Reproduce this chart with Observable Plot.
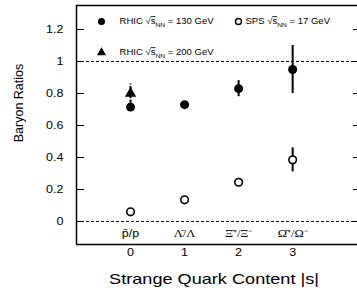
<!DOCTYPE html>
<html><head><meta charset="utf-8">
<script src="https://cdn.jsdelivr.net/npm/d3@7"></script>
<script src="https://cdn.jsdelivr.net/npm/@observablehq/plot@0.6"></script>
<style>body{margin:0;background:#fff} #chart svg{font-family: Arial, "Liberation Sans", sans-serif; background:#fff}</style>
</head><body><div id="chart"></div>
<script>
// ---- data ----
const strangeness = [0, 1, 2, 3];
const ratioLabels = ["p\u0304/p", "\u039B\u0304/\u039B", "\u039E\u0304\u207A/\u039E\u207B", "\u03A9\u0304\u207A/\u03A9\u207B"];
const rhic130 = [0.715, 0.73, 0.83, 0.95];
const rhic130Err = [0.02, 0.02, 0.05, 0.15];
const sps17 = [0.06, 0.135, 0.245, 0.385];
const sps17Err = [0.005, 0.01, 0.01, 0.075];
const rhic200X = [0];
const rhic200 = [0.80];
const rhic200Err = [0.06];
const yTicks = [0, 0.2, 0.4, 0.6, 0.8, 1, 1.2];
const xTicks = [0, 1, 2, 3];
const refLines = [0, 1];
const xDomain = [-1, 4.2];
const yDomain = [-0.144, 1.35];
const xTitle = "Strange Quark Content |s|";
const yTitle = "Baryon Ratios";
const legendTop = [
  {text: "RHIC \u221AsNN = 130 GeV", sym: "filled"},
  {text: "SPS \u221AsNN = 17 GeV", sym: "open"}
];
const legendSecond = [{text: "RHIC \u221AsNN = 200 GeV", sym: "triangle"}];

const r130 = strangeness.map((s, i) => ({s, v: rhic130[i], e: rhic130Err[i]}));
const rsps = strangeness.map((s, i) => ({s, v: sps17[i], e: sps17Err[i]}));
const r200 = rhic200X.map((s, i) => ({s, v: rhic200[i], e: rhic200Err[i]}));

const chart = Plot.plot({
  width: 357, height: 288,
  marginLeft: 76, marginTop: 5, marginRight: 0, marginBottom: 44,
  x: {domain: xDomain},
  y: {domain: yDomain},
  marks: [
    Plot.ruleY(refLines, {stroke: "black", strokeWidth: 1, strokeDasharray: "3,2"}),
    Plot.ruleX([xDomain[0]], {stroke: "black", strokeWidth: 1.5}),
    Plot.ruleY([yDomain[0], yDomain[1]], {stroke: "black", strokeWidth: 1.5}),
    Plot.axisY({ticks: yTicks, tickSize: 0, tickPadding: 13, fontSize: 10, label: null, tickFormat: d => String(d)}),
    Plot.axisY({ticks: yTicks, anchor: "left", tickSize: 8, dx: 8, text: null, label: null, strokeWidth: 1}),
    Plot.axisY({ticks: yTicks, anchor: "right", tickSize: 5, dx: -5, text: null, label: null, strokeWidth: 1}),
    Plot.axisX({ticks: xTicks, tickSize: 0, tickPadding: 4, fontSize: 10, label: null, tickFormat: d => String(d)}),
    // category labels inside the frame
    Plot.axisX({ticks: xTicks.slice(0, 1), tickSize: 0, tickPadding: -15, fontSize: 10, label: null, tickFormat: i => ratioLabels[i]}),
    Plot.axisX({ticks: xTicks.slice(1), tickSize: 0, tickPadding: -15, fontSize: 10, label: null, fontFamily: "Liberation Serif, serif", tickFormat: i => ratioLabels[i]}),
    // error bars
    Plot.ruleX(r130, {x: "s", y1: d => d.v - d.e, y2: d => d.v + d.e, stroke: "black", strokeWidth: 2}),
    Plot.ruleX(rsps, {x: "s", y1: d => d.v - d.e, y2: d => d.v + d.e, stroke: "black", strokeWidth: 2}),
    Plot.ruleX(r200, {x: "s", y1: d => d.v - d.e, y2: d => d.v + d.e, stroke: "black", strokeWidth: 2, strokeDasharray: "3,1.5"}),
    Plot.dot(r130, {x: "s", y: "v", r: 4.5, fill: "black"}),
    Plot.dot(rsps, {x: "s", y: "v", r: 3.8, fill: "white", stroke: "black", strokeWidth: 1.6}),
    Plot.dot(r200, {x: "s", y: "v", r: 4.2, symbol: "triangle", fill: "black"}),
    // legend
    Plot.dot(legendTop.slice(0, 1), {frameAnchor: "top-left", dx: 25, dy: 16, r: 3.5, fill: "black"}),
    Plot.dot(legendTop.slice(1), {frameAnchor: "top-left", dx: 162, dy: 16, r: 3, fill: "white", stroke: "black", strokeWidth: 1.4}),
    Plot.dot(legendSecond, {frameAnchor: "top-left", dx: 25, dy: 47, r: 3.4, symbol: "triangle", fill: "black"}),
    Plot.text(legendTop.slice(0, 1), {text: "text", frameAnchor: "top-left", dx: 43, dy: 16, textAnchor: "start", lineAnchor: "middle", fontSize: 8.5}),
    Plot.text(legendTop.slice(1), {text: "text", frameAnchor: "top-left", dx: 169, dy: 16, textAnchor: "start", lineAnchor: "middle", fontSize: 8.5}),
    Plot.text(legendSecond, {text: "text", frameAnchor: "top-left", dx: 43, dy: 47, textAnchor: "start", lineAnchor: "middle", fontSize: 8.5}),
    // titles
    Plot.text([xTitle], {frameAnchor: "bottom", dx: -3, dy: 39, fontSize: 14.5}),
    Plot.text([yTitle], {frameAnchor: "left", rotate: -90, dx: -58, dy: -22, textAnchor: "middle", lineAnchor: "middle", fontSize: 12.5})
  ]
});

// subscripts in legend
d3.select(chart).selectAll("text").each(function () {
  const el = d3.select(this);
  const t = el.text();
  const m = t.match(/^(.*\u221A)s(NN)(.*)$/);
  if (!m) return;
  el.attr("data-legend", "1");
  el.text(null);
  el.append("tspan").text(m[1]);
  el.append("tspan").text("s").style("text-decoration", "overline");
  el.append("tspan").text(m[2]).attr("font-size", "6").attr("dy", "2.5");
  el.append("tspan").text(m[3]).attr("dy", "-2.5");
});
document.getElementById("chart").append(chart);

// the reference's lettering is horizontally stretched
d3.select(chart).selectAll("text").each(function () {
  const g = this.closest("g");
  const tr = (this.getAttribute("transform") || "") + (g ? g.getAttribute("transform") || "" : "");
  if (/rotate/.test(tr)) return;
  const len = this.getComputedTextLength();
  const k = this.getAttribute("data-legend") ? 1.12 : 1.25;
  if (len > 0) {
    this.setAttribute("textLength", (len * k).toFixed(1));
    this.setAttribute("lengthAdjust", "spacingAndGlyphs");
  }
});
</script></body></html>
